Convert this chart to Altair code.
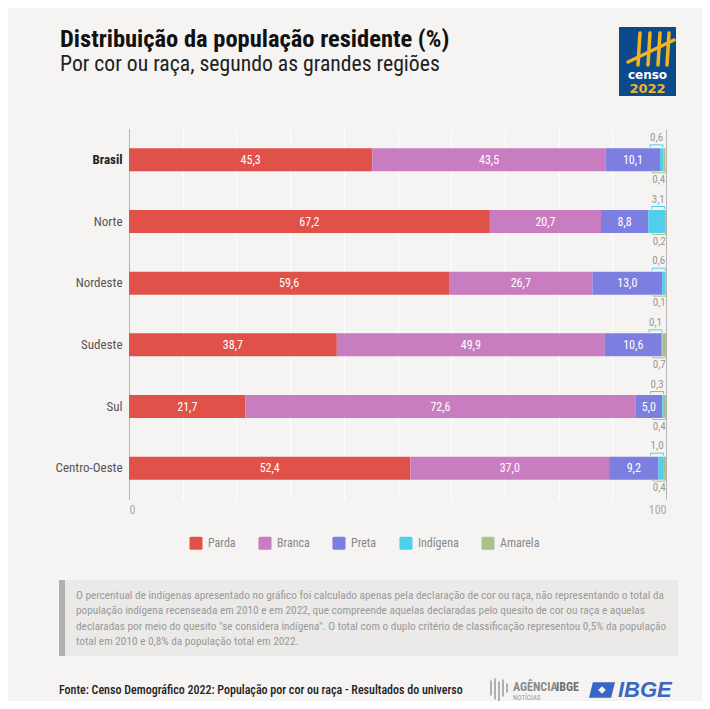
import altair as alt
import pandas as pd

# ---------------- data ----------------
regions = ["Brasil", "Norte", "Nordeste", "Sudeste", "Sul", "Centro-Oeste"]
categories = ["Parda", "Branca", "Preta", "Indígena", "Amarela"]
colors = ["#e0514a", "#c97dc1", "#7c7fe0", "#4fcfec", "#a9c28c"]
parda = [45.3, 67.2, 59.6, 38.7, 21.7, 52.4]
branca = [43.5, 20.7, 26.7, 49.9, 72.6, 37.0]
preta = [10.1, 8.8, 13.0, 10.6, 5.0, 9.2]
indigena = [0.6, 3.1, 0.6, 0.1, 0.3, 1.0]
amarela = [0.4, 0.2, 0.1, 0.7, 0.4, 0.4]
axis_labels = [0, 100]
grid_values = [0, 10, 20, 30, 40, 50, 60, 70, 80, 90, 100]

title = "Distribuição da população residente (%)"
subtitle = "Por cor ou raça, segundo as grandes regiões"
note_lines = [
    "O percentual de indígenas apresentado no gráfico foi calculado apenas pela declaração de cor ou raça, não representando o total da",
    "população indígena recenseada em 2010 e em 2022, que compreende aquelas declaradas pelo quesito de cor ou raça e aquelas",
    "declaradas por meio do quesito \"se considera indígena\". O total com o duplo critério de classificação representou 0,5% da população",
    "total em 2010 e 0,8% da população total em 2022.",
]
source = "Fonte: Censo Demográfico 2022: População por cor ou raça - Resultados do universo"

FONT = "Roboto Condensed"

# ---------------- tables ----------------
rows = []
for i, r in enumerate(regions):
    vals = [parda[i], branca[i], preta[i], indigena[i], amarela[i]]
    s = 0.0
    for k, (c, v) in enumerate(zip(categories, vals)):
        e = round(s + v, 2)
        rows.append(dict(region=r, cat=c, value=v, start=round(s, 2), end=e, order=k,
                         mid=(s + e) / 2, label=f"{v:.1f}".replace(".", ",")))
        s = e
df = pd.DataFrame(rows)
df["bmid"] = df["end"] - 1.25

inner = df[df["cat"].isin(["Parda", "Branca", "Preta"])]
ind = df[df["cat"] == "Indígena"]
ama = df[df["cat"] == "Amarela"]

W, H = 537, 370
ysc = alt.Scale(domain=regions, paddingInner=0, paddingOuter=0)
xsc = alt.Scale(domain=[0, 100], nice=False, zero=True)
Yenc = alt.Y("region:N", sort=regions, scale=ysc)

bars = alt.Chart(df).mark_bar(size=23).encode(
    y=alt.Y("region:N", sort=regions, scale=ysc, title=None,
            axis=alt.Axis(ticks=False, domainColor="#b5b5b5", labelPadding=7, labelFontSize=13,
                          labelFont=FONT,
                          labelColor=alt.expr("datum.value == 'Brasil' ? '#222' : '#555'"),
                          labelFontWeight=alt.expr("datum.value == 'Brasil' ? 'bold' : 'normal'"))),
    x=alt.X("start:Q", scale=xsc, title=None,
            axis=alt.Axis(values=grid_values, ticks=False, domain=False, labelFontSize=12,
                          labelFont=FONT, labelColor="#aaa", labelPadding=5,
                          labelExpr="datum.value == 0 || datum.value == 100 ? datum.label : ''",
                          gridColor=alt.expr("datum.value == 0 || datum.value == 100 ? '#b5b5b5' : '#ffffff'"),
                          gridWidth=1, gridOpacity=1)),
    x2="end:Q",
    color=alt.Color("cat:N", sort=categories,
                    scale=alt.Scale(domain=categories, range=colors),
                    legend=alt.Legend(orient="none", legendX=60, legendY=407, direction="horizontal",
                                      columns=5, title=None,
                                      symbolType="M -0.75 -1 L 0.75 -1 Q 1 -1 1 -0.75 L 1 0.75 Q 1 1 0.75 1 L -0.75 1 Q -1 1 -1 0.75 L -1 -0.75 Q -1 -1 -0.75 -1 Z",
                                      symbolSize=170, symbolStrokeWidth=0, symbolOpacity=1,
                                      labelFontSize=12, labelFont=FONT, labelColor="#888",
                                      columnPadding=22, labelOffset=5)),
    order="order:Q",
)

inner_txt = alt.Chart(inner).mark_text(color="white", fontSize=12, font=FONT).encode(
    x=alt.X("mid:Q", scale=xsc), y=Yenc, text="label:N")

TOP_BRACKET = "M -1 0.4 L -1 0 L 1 0 L 1 0.4"
BOT_BRACKET = "M -1 -0.4 L -1 0 L 1 0 L 1 -0.4"

ind_br = alt.Chart(ind).mark_point(shape=TOP_BRACKET, size=169, filled=False, opacity=1,
                                   strokeWidth=1, color="#4fcfec", yOffset=-15).encode(
    x=alt.X("bmid:Q", scale=xsc), y=Yenc)
ind_txt = alt.Chart(ind).mark_text(color="#999", fontSize=11, font=FONT, dy=-22).encode(
    x=alt.X("bmid:Q", scale=xsc), y=Yenc, text="label:N")

ama_br = alt.Chart(ama).mark_point(shape=BOT_BRACKET, size=169, filled=False, opacity=1,
                                   strokeWidth=1, color="#a9c28c", yOffset=13).encode(
    x=alt.X("bmid:Q", scale=xsc), y=Yenc)
ama_txt = alt.Chart(ama).mark_text(color="#999", fontSize=11, font=FONT, dy=20).encode(
    x=alt.X("bmid:Q", scale=xsc), y=Yenc, text="label:N")


def txt(text, x, y, size, color, weight="normal", align="left", baseline="middle", font=FONT, italic=False):
    return alt.Chart(pd.DataFrame({"t": [text]})).mark_text(
        align=align, baseline=baseline, fontSize=size, color=color, fontWeight=weight,
        font=font, fontStyle="italic" if italic else "normal").encode(
        x=alt.value(x), y=alt.value(y), text="t:N")


def rect(x1, x2, y1, y2, color):
    return alt.Chart(pd.DataFrame({"a": [0]})).mark_rect(color=color).encode(
        x=alt.value(x1), x2=alt.value(x2), y=alt.value(y1), y2=alt.value(y2))


def line(x1, y1, x2, y2, color, w):
    return alt.Chart(pd.DataFrame({"a": [0]})).mark_rule(color=color, strokeWidth=w, strokeCap="round").encode(
        x=alt.value(x1), x2=alt.value(x2), y=alt.value(y1), y2=alt.value(y2))


def sym(shape, x, y, size, color):
    return alt.Chart(pd.DataFrame({"a": [0]})).mark_point(
        shape=shape, size=size, filled=True, opacity=1, color=color, strokeWidth=0).encode(
        x=alt.value(x), y=alt.value(y))


deco = [
    txt(title, -69, -82.5, 24.5, "#111", weight="bold", baseline="alphabetic"),
    txt(subtitle, -69, -58.5, 21.7, "#222", baseline="alphabetic"),
    # censo logo
    rect(490, 547, -102, -33, "#0d4a8c"),
    line(511, -96, 509, -64, "#f2b41c", 3.5),
    line(521, -96, 519, -64, "#f2b41c", 3.5),
    line(531, -96, 529, -64, "#f2b41c", 3.5),
    line(540, -96, 538, -64, "#f2b41c", 3.5),
    line(499, -67, 545, -89, "#f2b41c", 3.5),
    txt("censo", 518.5, -54, 12, "white", weight="bold", align="center", font="DejaVu Sans"),
    txt("2022", 518.5, -40, 13, "#f2b41c", weight="bold", align="center", font="DejaVu Sans"),
    # note box
    rect(-70, 549, 451, 527, "#ebeae8"),
    rect(-70, -64, 451, 527, "#b0b0b0"),
] + [txt(l, -53, 467 + 15.3 * i, 11.3, "#999") for i, l in enumerate(note_lines)] + [
    txt(source, -70, 561, 12, "#222", weight=500),
    # agencia ibge
    line(362, 552, 362, 566, "#9a9a9a", 1.5),
    line(366, 550, 366, 570, "#9a9a9a", 1.5),
    line(370, 553, 370, 572, "#9a9a9a", 1.5),
    line(374, 551, 374, 567, "#9a9a9a", 1.5),
    line(378, 555, 378, 563, "#9a9a9a", 1.5),
    txt("AGÊNCIA", 384, 558, 12, "#8a8a8a", weight="bold"),
    txt("IBGE", 427, 558, 12, "#6f6f6f", weight="bold"),
    txt("NOTÍCIAS", 384, 569, 7, "#9a9a9a"),
    sym("M -0.7 -0.6 L 1 -0.6 L 0.7 0.6 L -1 0.6 Z", 473, 561, 676, "#3b66c4"),
    sym("diamond", 473, 561, 60, "#f5f4f2"),
    txt("IBGE", 489, 561, 22, "#3b66c4", weight="bold", italic=True, font="Liberation Sans"),
]

chart = alt.layer(bars, inner_txt, ind_br, ind_txt, ama_br, ama_txt, *deco).properties(
    width=W, height=H,
    autosize=alt.AutoSizeParams(type="none"),
    padding={"left": 121, "top": 121, "right": 36, "bottom": 202},
).configure(background="#f5f4f2").configure_view(stroke=None)

chart.save("out.html", embed_options={"renderer": "svg", "actions": False})
